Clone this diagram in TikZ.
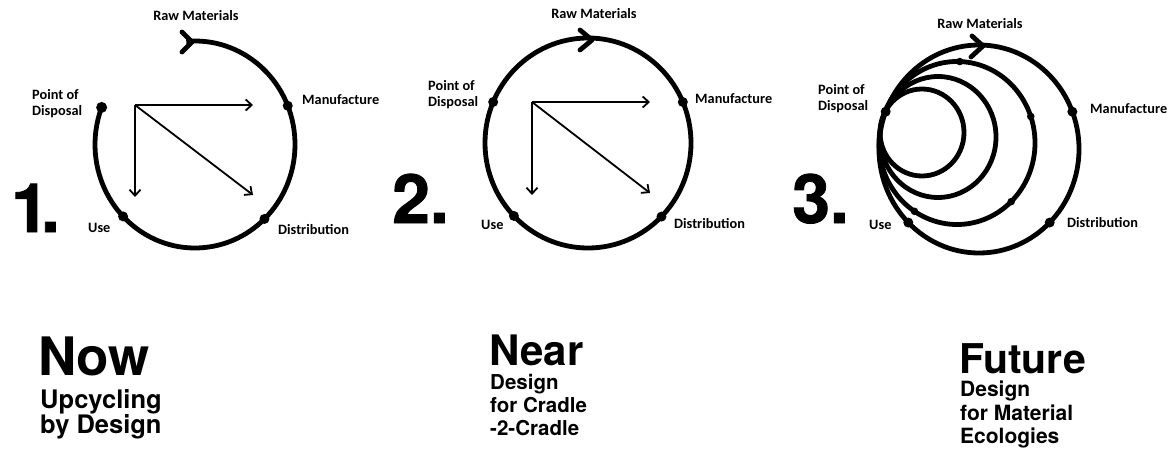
\documentclass[tikz,border=0pt]{standalone}
\usepackage{fontspec}
\setmainfont{Carlito}
\newfontfamily\heros{TeX Gyre Heros}
\newfontfamily\heavy{texgyreheros-bold.otf}[FakeBold=1.2]
\usetikzlibrary{arrows.meta}
\begin{document}
\begin{tikzpicture}[x=1pt,y=-1pt,
  ring/.style={line width=4.8pt},
  barb/.style={line width=4.8pt,line cap=round,line join=round},
  ptr/.style={line width=1.8pt,-{Straight Barb[length=6pt,width=11pt]}},
  stage/.style={font=\bfseries\fontsize{14.3}{16}\selectfont,inner sep=0pt,anchor=base west},
  stagec/.style={stage,anchor=base},
  bigno/.style={font=\heavy\fontsize{68}{68}\selectfont,inner sep=0pt,anchor=base west},
  ttl/.style={inner sep=0pt,anchor=base west,text depth=0pt,text height=0.72em},
]
\useasboundingbox (0,0) rectangle (1174,449);
\fill[white] (0,0) rectangle (1174,449);

% ---------- Diagram 1 ----------
\coordinate (c1) at (195,144.5);
\path (c1) ++(-22:100 and 103.5) coordinate (m1)
      (c1) ++(46:100 and 103.5) coordinate (d1)
      (c1) ++(136:100 and 103.5) coordinate (u1)
      (c1) ++(201:100 and 103.5) coordinate (p1);
\draw[ring] (c1) ++(-95:100 and 103.5) arc[start angle=-95,end angle=201,x radius=100,y radius=103.5];
\draw[barb] (182,32) -- (192,42) -- (182,52);
\foreach \q in {m1,d1,u1} \fill (\q) circle (5);
\fill (p1) circle (5.5);
\coordinate (o1) at (135,105);
\coordinate (h1) at (253,105);
\coordinate (v1) at (135,197);
\coordinate (g1) at (253,195);
\draw[ptr] (o1) -- (h1);
\draw[ptr] (o1) -- (v1);
\draw[ptr] (o1) -- (g1);
\node[stagec] (raw1) at (196,21) {Raw Materials};
\node[stage] (pod1a) at (32,100) {Point of};
\node[stage] (pod1b) at (32,116) {Disposal};
\node[stage] (man1) at (302,105) {Manufacture};
\node[stage] (use1) at (88,232) {Use};
\node[stage] (dis1) at (278,234) {Distribution};
\node[bigno] (n1) at (11,232) {1\kern-0.12em.};

% ---------- Diagram 2 ----------
\coordinate (c2) at (588,143);
\path (c2) ++(-23:103 and 105) coordinate (m2)
      (c2) ++(44.5:103 and 105) coordinate (d2)
      (c2) ++(136:103 and 105) coordinate (u2)
      (c2) ++(203:103 and 105) coordinate (p2);
\draw[ring] (c2) ellipse[x radius=103,y radius=105];
\draw[barb] (580,30) -- (592,40) -- (580,50);
\foreach \q in {m2,d2,u2,p2} \fill (\q) circle (5);
\coordinate (o2) at (532,102);
\coordinate (h2) at (650,102);
\coordinate (v2) at (532,195);
\coordinate (g2) at (650,193);
\draw[ptr] (o2) -- (h2);
\draw[ptr] (o2) -- (v2);
\draw[ptr] (o2) -- (g2);
\node[stagec] (raw2) at (594,19) {Raw Materials};
\node[stage] (pod2a) at (428,91) {Point of};
\node[stage] (pod2b) at (428,107) {Disposal};
\node[stage] (man2) at (695,104) {Manufacture};
\node[stage] (use2) at (481,229) {Use};
\node[stage] (dis2) at (674,228) {Distribution};
\node[bigno] (n2) at (392,223) {2.};

% ---------- Diagram 3 ----------
\coordinate (c3) at (979,149);
\coordinate (c3b) at (957,143);
\coordinate (c3c) at (938,137);
\coordinate (c3d) at (922,132.5);
\draw[ring] (c3) ellipse[x radius=100,y radius=104];
\draw[ring] (c3b) ellipse[x radius=78,y radius=81.5];
\draw[ring] (c3c) ellipse[x radius=58,y radius=60.5];
\draw[ring] (c3d) ellipse[x radius=42,y radius=43.5];
\draw[barb] (972,36) -- (983,46) -- (971,57);
\path (c3) ++(-21:100 and 104) coordinate (m3)
      (c3) ++(45:100 and 104) coordinate (d3)
      (c3) ++(135:100 and 104) coordinate (u3)
      (c3) ++(201:100 and 104) coordinate (p3)
      (c3b) ++(-88:78 and 81.5) coordinate (r3b)
      (c3b) ++(-19:78 and 81.5) coordinate (m3b)
      (c3b) ++(46:78 and 81.5) coordinate (d3b)
      (c3b) ++(123:78 and 81.5) coordinate (u3b);
\foreach \q in {m3,d3,u3,p3} \fill (\q) circle (5);
\foreach \q in {r3b,m3b,d3b,u3b} \fill (\q) circle (3.8);
\node[stagec] (raw3) at (980,29) {Raw Materials};
\node[stage] (pod3a) at (818,95) {Point of};
\node[stage] (pod3b) at (818,111) {Disposal};
\node[stage] (man3) at (1090,114) {Manufacture};
\node[stage] (use3) at (869,229) {Use};
\node[stage] (dis3) at (1067,227) {Distribution};
\node[bigno] (n3) at (792,223) {3.};

% ---------- Titles ----------
\node[ttl,font=\heros\bfseries\fontsize{53}{53}\selectfont] (now) at (38,375) {Now};
\node[ttl,font=\heros\bfseries\fontsize{25.5}{25.5}\selectfont] (nowa) at (40,408) {Upcycling};
\node[ttl,font=\heros\bfseries\fontsize{25.5}{25.5}\selectfont] (nowb) at (40,433) {by Design};

\node[ttl,font=\heros\bfseries\fontsize{42}{42}\selectfont] (near) at (489,365) {Near};
\node[ttl,font=\heros\bfseries\fontsize{20.5}{20.5}\selectfont] (neara) at (490,389) {Design};
\node[ttl,font=\heros\bfseries\fontsize{20.5}{20.5}\selectfont] (nearb) at (490,412) {for Cradle};
\node[ttl,font=\heros\bfseries\fontsize{20.5}{20.5}\selectfont] (nearc) at (490,435) {-2-Cradle};

\node[ttl,font=\heros\bfseries\fontsize{41}{41}\selectfont] (fut) at (959,373) {Future};
\node[ttl,font=\heros\bfseries\fontsize{21}{21}\selectfont] (futa) at (960,396) {Design};
\node[ttl,font=\heros\bfseries\fontsize{21}{21}\selectfont] (futb) at (960,420) {for Material};
\node[ttl,font=\heros\bfseries\fontsize{21}{21}\selectfont] (futc) at (960,443) {Ecologies};
\end{tikzpicture}
\end{document}
